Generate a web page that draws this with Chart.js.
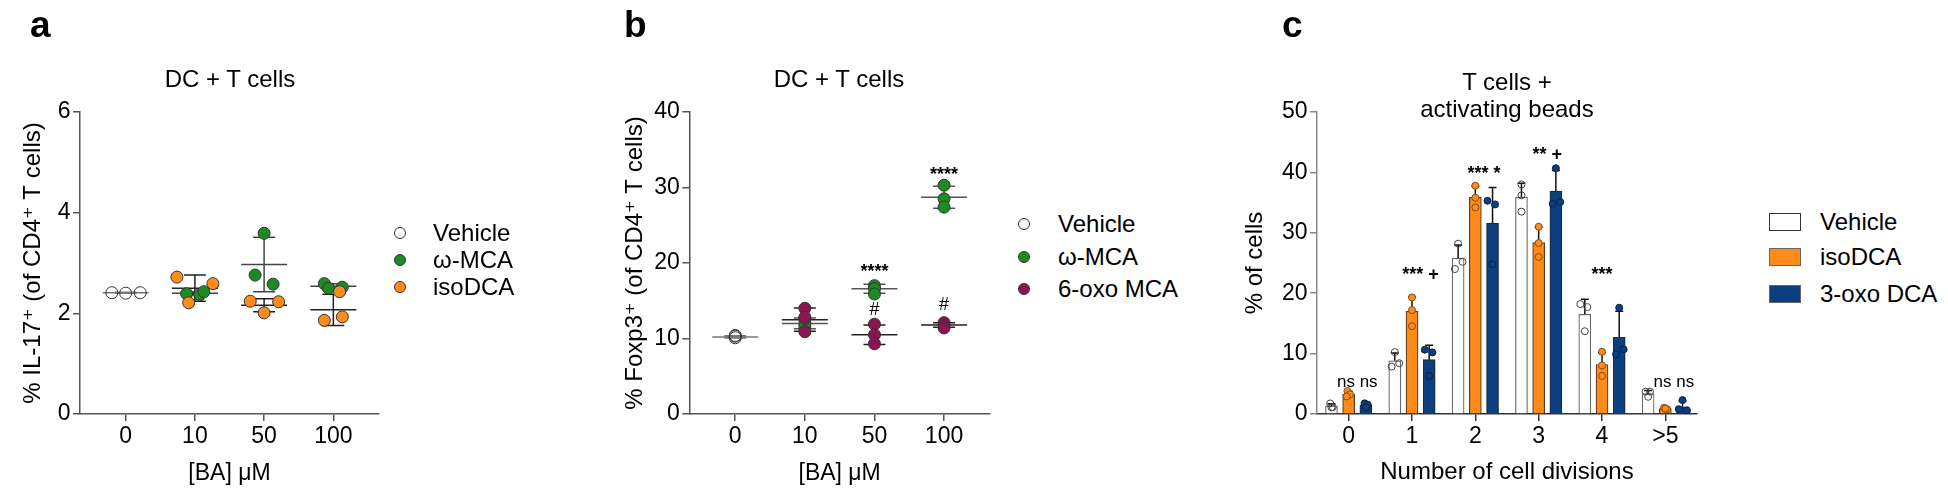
<!DOCTYPE html>
<html>
<head>
<meta charset="utf-8">
<script src="https://cdn.jsdelivr.net/npm/chart.js@4.4.1/dist/chart.umd.min.js"></script>
<style>
  body { margin: 0; background: #fff; }
  #page { position: relative; width: 1948px; height: 496px; overflow: hidden; background: #fff;
          font-family: 'Liberation Sans', Arial, sans-serif; color: #000; }
  canvas { position: absolute; top: 0; }
  .letter { position: absolute; top: 6px; font-weight: bold; font-size: 37px; line-height: 37px; }
  .title { position: absolute; width: 320px; font-size: 24px; line-height: 26.6px; text-align: center; }
  .item { position: absolute; display: flex; align-items: center; height: 24px; font-size: 24px; line-height: 24px; white-space: nowrap; }
  .dot { width: 12px; height: 12px; border-radius: 50%; box-sizing: border-box; border: 1px solid #333; }
  .box { width: 32px; height: 18px; box-sizing: border-box; border: 1.5px solid #333; }
</style>
</head>
<body>
<div id="page">
  <canvas id="chartA" width="480" height="496" style="left:0px"></canvas>
  <canvas id="chartB" width="430" height="496" style="left:580px"></canvas>
  <canvas id="chartC" width="560" height="496" style="left:1200px"></canvas>

  <div class="letter" style="left:30px">a</div>
  <div class="letter" style="left:624px">b</div>
  <div class="letter" style="left:1282px">c</div>

  <div class="title" style="left:70px; top:66px">DC + T cells</div>
  <div class="title" style="left:679px; top:66px">DC + T cells</div>
  <div class="title" style="left:1347px; top:69px">T cells +<br>activating beads</div>
</div>
<script>
Chart.defaults.font.family = "'Liberation Sans', Arial, 'DejaVu Sans', sans-serif";
Chart.defaults.color = '#000';

const GREEN = '#1e8a22';
const ORANGE = '#ff8c1a';
const PURPLE = '#8c1450';
const BLUE = '#0c3f80';
const CLEAR = 'rgba(255,255,255,0)';

const doseLabels = ['0', '10', '50', '100'];
const divisionLabels = ['0', '1', '2', '3', '4', '>5'];

// panel a - % IL-17+, three wells per dose
const aSeries = ['Vehicle', 'ω-MCA', 'isoDCA'];
const aVehicle = [[2.41, 2.40, 2.41], null, null, null];
const aOmegaMCA = [null, [2.39, 2.37, 2.43], [3.59, 2.76, 2.58], [2.59, 2.50, 2.52]];
const aIsoDCA = [null, [2.72, 2.21, 2.59], [2.24, 2.01, 2.23], [2.43, 1.86, 1.93]];
const aVehicleMean = [2.41, null, null, null];
const aVehicleSD = [0.01, null, null, null];
const aOmegaMean = [null, 2.40, 2.97, 2.54];
const aOmegaSD = [null, 0.03, 0.54, 0.05];
const aIsoMean = [null, 2.50, 2.16, 2.07];
const aIsoSD = [null, 0.26, 0.13, 0.31];
// horizontal scatter of the dots, in dose-slot units
const aVehicleJit = [[-0.2, 0, 0.21], null, null, null];
const aOmegaJit = [null, [-0.12, 0.07, 0.13], [0, -0.13, 0.13], [-0.13, -0.07, 0.13]];
const aIsoJit = [null, [-0.26, -0.09, 0.26], [-0.2, 0, 0.21], [0.09, -0.13, 0.13]];

// panel b - % Foxp3+
const bSeries = ['Vehicle', 'ω-MCA', '6-oxo MCA'];
const bVehicle = [[10.1, 10.3, 10.4], null, null, null];
const bOmegaMCA = [null, [11.5, 12.0, 12.6], [17.0, 16.6, 15.9], [30.3, 28.5, 27.4]];
const bOxoMCA = [null, [14.0, 12.8, 10.9], [11.9, 10.5, 9.3], [12.1, 11.8, 11.4]];
const bVehicleMean = [10.2, null, null, null];
const bVehicleSD = [0.15, null, null, null];
const bOmegaMean = [null, 12.0, 16.6, 28.7];
const bOmegaSD = [null, 0.7, 0.6, 1.45];
const bOxoMean = [null, 12.5, 10.5, 11.8];
const bOxoSD = [null, 1.55, 1.3, 0.3];
const bOmegaSig = ['', '', '****', '****'];
const bOmegaSigY = [null, null, 18.2, 31.0];
const bOxoSig = ['', '', '#', '#'];
const bOxoSigY = [null, null, 13.1, 13.75];

// panel c - % of cells per division number
const cSeries = ['Vehicle', 'isoDCA', '3-oxo DCA'];
const cVehicleMean = [1.33, 8.8, 25.8, 35.9, 16.5, 3.4];
const cVehicleSD = [0.35, 1.3, 2.2, 2.3, 2.5, 0.5];
const cIsoMean = [3.3, 17.0, 35.9, 28.4, 8.2, 0.9];
const cIsoSD = [0.45, 2.4, 1.8, 2.5, 2.0, 0.15];
const cOxoMean = [1.5, 9.0, 31.6, 36.9, 12.7, 1.2];
const cOxoSD = [0.35, 2.4, 5.9, 3.4, 4.3, 0.95];
const cVehicle = [[1.75, 1.15, 1.1], [10.25, 7.85, 8.4], [28.2, 24.0, 25.2], [38.0, 36.2, 33.5], [18.2, 17.7, 13.7], [3.7, 3.7, 2.85]];
const cIsoDCA = [[3.8, 3.25, 2.9], [19.3, 17.2, 14.55], [37.8, 35.8, 34.2], [31.0, 28.3, 26.0], [10.3, 8.05, 6.3], [1.05, 0.8, 0.9]];
const cOxoDCA = [[1.76, 1.54, 1.1], [10.65, 10.2, 6.3], [35.3, 34.7, 24.8], [40.7, 34.8, 35.1], [17.6, 9.9, 10.7], [2.3, 0.8, 0.6]];
const cVehicleJit = [[-0.02, 0.02, 0], [0, -0.05, 0.07], [0, -0.05, 0.07], [0, 0, 0], [-0.07, 0.04, 0], [-0.04, 0.03, 0]];
const cIsoJit = [[-0.02, 0.02, -0.03], [0, 0, 0], [0, 0, 0], [0, 0, 0], [0, 0, 0], [-0.02, 0.03, 0]];
const cOxoJit = [[-0.02, 0.03, 0], [-0.07, 0.05, 0], [-0.08, 0.04, 0], [0, -0.05, 0.07], [0, -0.05, 0.07], [0, -0.06, 0.07]];
const cIsoSig = ['ns', '***', '***', '**', '***', 'ns'];
const cOxoSig = ['ns', '+', '*', '+', '', 'ns'];
const cSigY = [4.5, 22.2, 38.9, 42.1, 22.2, 4.5];

const C_PITCH = 0.2717;            // bar spacing inside a division group
const groupShift = k => (k - 1) * C_PITCH;

function dots(values, jitter, shift) {
    const pts = [];
    values.forEach((vals, i) => {
        if (!vals) return;
        vals.forEach((v, j) => pts.push({ x: i + (shift || 0) + (jitter ? jitter[i][j] : 0), y: v }));
    });
    return pts;
}

// mean line + SD whiskers behind the dots (panels a, b)
const meanSdLines = {
    id: 'meanSdLines',
    beforeDatasetsDraw(chart) {
        const { ctx, scales: { x, y } } = chart;
        chart.data.datasets.forEach(ds => {
            if (!ds.means) return;
            ctx.save();
            ctx.strokeStyle = ds.lineColor;
            ctx.lineWidth = 1.5;
            ds.means.forEach((m, i) => {
                if (m == null) return;
                const cx = x.getPixelForValue(i);
                const ym = y.getPixelForValue(m);
                const yt = y.getPixelForValue(m + ds.sds[i]);
                const yb = y.getPixelForValue(m - ds.sds[i]);
                ctx.beginPath();
                ctx.moveTo(cx - 23, ym); ctx.lineTo(cx + 23, ym);
                ctx.moveTo(cx - 11, yt); ctx.lineTo(cx + 11, yt);
                ctx.moveTo(cx - 11, yb); ctx.lineTo(cx + 11, yb);
                ctx.moveTo(cx, yt); ctx.lineTo(cx, yb);
                ctx.stroke();
            });
            ctx.restore();
        });
    }
};

// upward SD bar on each bar (panel c), drawn before the dots
const barErrors = {
    id: 'barErrors',
    afterDatasetDraw(chart, args) {
        const ds = chart.data.datasets[args.index];
        if (!ds.sds) return;
        const ctx = chart.ctx, y = chart.scales.y;
        ctx.save();
        ctx.strokeStyle = '#111';
        ctx.lineWidth = 1.5;
        args.meta.data.forEach((bar, i) => {
            const top = y.getPixelForValue(ds.data[i].y + ds.sds[i]);
            ctx.beginPath();
            ctx.moveTo(bar.x, bar.y); ctx.lineTo(bar.x, top);
            ctx.moveTo(bar.x - 4, top); ctx.lineTo(bar.x + 4, top);
            ctx.stroke();
        });
        ctx.restore();
    }
};

function sigLabels(items) {
    return {
        id: 'sigLabels',
        afterDatasetsDraw(chart) {
            const ctx = chart.ctx, xs = chart.scales.x, ys = chart.scales.y;
            ctx.save();
            ctx.fillStyle = '#000';
            ctx.textAlign = 'center';
            ctx.textBaseline = 'alphabetic';
            items.forEach(it => {
                if (!it.text) return;
                const ns = it.text.indexOf('ns') >= 0;
                const plain = ns || it.text === '#';
                ctx.font = (plain ? '' : 'bold ') + (ns ? 17 : 18) + "px 'Liberation Sans', Arial, sans-serif";
                ctx.fillText(it.text, xs.getPixelForValue(it.x), ys.getPixelForValue(it.y));
            });
            ctx.restore();
        }
    };
}

function yAxis(max, step, title, width, color) {
    return {
        min: 0, max: max,
        afterFit: s => { s.width = width; },
        ticks: { stepSize: step, font: { size: 23 }, padding: 2.5 },
        grid: { drawOnChartArea: false, tickLength: 7, color: color, lineWidth: 1.5 },
        border: { color: color, width: 1.5 },
        title: { display: true, text: title, font: { size: 24 }, padding: { top: width === 80 ? 18.6 : 40.6 } }
    };
}

function xAxis(min, max, labels, title, titleSize, color) {
    return {
        type: 'linear', min: min, max: max, offset: false,
        afterBuildTicks: s => { s.ticks = labels.map((_, i) => ({ value: i })); },
        afterFit: s => { s.height = 82; },
        ticks: { callback: v => labels[v], font: { size: 23 }, padding: 2 },
        grid: { offset: false, drawOnChartArea: false, tickLength: 7, color: color, lineWidth: 1.5 },
        border: { color: color, width: 1.5 },
        title: { display: true, text: title, font: { size: titleSize }, padding: { bottom: 9 } }
    };
}

function dotOptions(yMax, yStep, yTitle, yWidth, padRight) {
    return {
        responsive: false,
        animation: false,
        layout: { padding: { top: 112, right: padRight, left: 0, bottom: 0 } },
        plugins: { legend: { display: false }, tooltip: { enabled: false } },
        scales: {
            x: xAxis(-0.66, 3.66, doseLabels, '[BA] μM', 23, '#555'),
            y: yAxis(yMax, yStep, yTitle, yWidth, '#555')
        }
    };
}

function dotSet(label, values, jitter, fill, order, means, sds, lineColor) {
    return {
        label, data: dots(values, jitter), order,
        backgroundColor: fill, borderColor: '#333',
        pointRadius: 6, pointBorderWidth: 1, pointHoverRadius: 6,
        means, sds, lineColor
    };
}

new Chart(document.getElementById('chartA'), {
    type: 'scatter',
    data: {
        datasets: [
            dotSet(aSeries[0], aVehicle, aVehicleJit, CLEAR, 2, aVehicleMean, aVehicleSD, '#777'),
            dotSet(aSeries[1], aOmegaMCA, aOmegaJit, GREEN, 1, aOmegaMean, aOmegaSD, '#444'),
            dotSet(aSeries[2], aIsoDCA, aIsoJit, ORANGE, 0, aIsoMean, aIsoSD, '#222')
        ]
    },
    options: dotOptions(6, 2, '% IL-17⁺ (of CD4⁺ T cells)', 80, 101),
    plugins: [meanSdLines]
});

const bSig = [];
doseLabels.forEach((_, i) => {
    bSig.push({ x: i, y: bOmegaSigY[i], text: bOmegaSig[i] });
    bSig.push({ x: i, y: bOxoSigY[i], text: bOxoSig[i] });
});

new Chart(document.getElementById('chartB'), {
    type: 'scatter',
    data: {
        datasets: [
            dotSet(bSeries[0], bVehicle, null, CLEAR, 2, bVehicleMean, bVehicleSD, '#777'),
            dotSet(bSeries[1], bOmegaMCA, null, GREEN, 1, bOmegaMean, bOmegaSD, '#555'),
            dotSet(bSeries[2], bOxoMCA, null, PURPLE, 0, bOxoMean, bOxoSD, '#222')
        ]
    },
    options: dotOptions(40, 10, '% Foxp3⁺ (of CD4⁺ T cells)', 109.3, 20),
    plugins: [meanSdLines, sigLabels(bSig)]
});

// one label line per division: isoDCA mark, then 3-oxo DCA mark, centred between their bars
const cSig = divisionLabels.map((_, i) => cOxoSig[i]
    ? { x: i + (groupShift(1) + groupShift(2)) / 2, y: cSigY[i], text: cIsoSig[i] + ' ' + cOxoSig[i] }
    : { x: i + groupShift(1), y: cSigY[i], text: cIsoSig[i] });

function barSet(label, means, sds, k, fill, border) {
    return {
        type: 'bar', label, sds, order: 1,
        data: means.map((m, i) => ({ x: i + groupShift(k), y: m })),
        backgroundColor: fill, borderColor: border, borderWidth: 1.2,
        grouped: false, barThickness: 12
    };
}

function cDots(label, values, jitter, k, fill, border) {
    return {
        type: 'scatter', label, data: dots(values, jitter, groupShift(k)), order: 0,
        backgroundColor: fill, borderColor: border, pointRadius: 3.5, pointBorderWidth: 1, pointHoverRadius: 3.5
    };
}

new Chart(document.getElementById('chartC'), {
    type: 'bar',
    data: {
        datasets: [
            barSet(cSeries[0], cVehicleMean, cVehicleSD, 0, '#fff', '#666'),
            barSet(cSeries[1], cIsoMean, cIsoSD, 1, ORANGE, '#5a3a1a'),
            barSet(cSeries[2], cOxoMean, cOxoSD, 2, BLUE, '#1a2a40'),
            cDots(cSeries[0], cVehicle, cVehicleJit, 0, CLEAR, '#444'),
            cDots(cSeries[1], cIsoDCA, cIsoJit, 1, ORANGE, '#8a4a10'),
            cDots(cSeries[2], cOxoDCA, cOxoJit, 2, BLUE, '#06224a')
        ]
    },
    options: {
        responsive: false,
        animation: false,
        layout: { padding: { top: 112, right: 63, left: 0, bottom: 0 } },
        plugins: { legend: { display: false }, tooltip: { enabled: false } },
        scales: {
            x: xAxis(-0.5, 5.5, divisionLabels, 'Number of cell divisions', 24, '#333'),
            y: yAxis(50, 10, '% of cells', 117, '#888')
        }
    },
    plugins: [barErrors, sigLabels(cSig)]
});

// legends
function addLegend(names, fills, left, textLeft, rows, kind) {
    const page = document.getElementById('page');
    names.forEach((name, i) => {
        const item = document.createElement('div');
        item.className = 'item';
        item.style.left = left + 'px';
        item.style.top = (rows[i] - 12) + 'px';
        const mark = document.createElement('div');
        mark.className = kind;
        mark.style.background = fills[i];
        const w = kind === 'dot' ? 12 : 32;
        mark.style.marginRight = (textLeft - left - w) + 'px';
        if (kind === 'box' && i > 0) mark.style.borderColor = '#666';
        const txt = document.createElement('span');
        txt.textContent = name;
        item.appendChild(mark);
        item.appendChild(txt);
        page.appendChild(item);
    });
}
addLegend(aSeries, ['#fff', GREEN, ORANGE], 394, 433, [233, 260, 287], 'dot');
addLegend(bSeries, ['#fff', GREEN, PURPLE], 1018, 1058, [224, 256.5, 288.5], 'dot');
addLegend(cSeries, ['#fff', ORANGE, BLUE], 1769, 1820, [221.5, 257, 294], 'box');
</script>
</body>
</html>
